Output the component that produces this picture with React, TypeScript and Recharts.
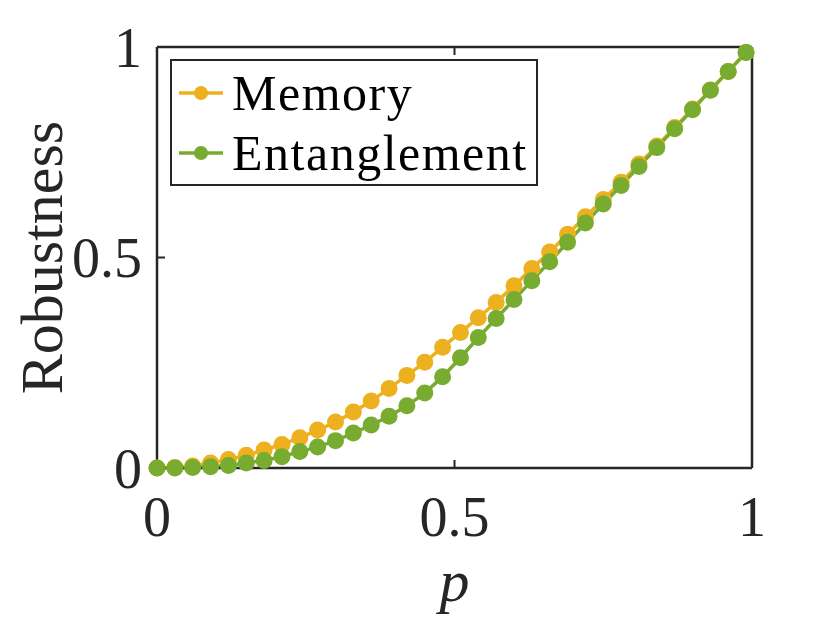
import React from "react";
import { LineChart, Line, XAxis, YAxis } from "recharts";

// p sampled every 0.03 from 0 to 0.99
const pValues = [
  0, 0.03, 0.06, 0.09, 0.12, 0.15, 0.18, 0.21, 0.24, 0.27, 0.3, 0.33, 0.36, 0.39, 0.42, 0.45, 0.48,
  0.51, 0.54, 0.57, 0.6, 0.63, 0.66, 0.69, 0.72, 0.75, 0.78, 0.81, 0.84, 0.87, 0.9, 0.93, 0.96, 0.99,
];

const memory = [
  0, 0.001, 0.005, 0.012, 0.02, 0.03, 0.043, 0.056, 0.072, 0.09, 0.109, 0.133, 0.159, 0.189, 0.22,
  0.251, 0.287, 0.322, 0.357, 0.393, 0.433, 0.474, 0.513, 0.555, 0.597, 0.638, 0.679, 0.722, 0.765,
  0.809, 0.853, 0.898, 0.942, 0.987,
];

const entanglement = [
  0, 0, 0.001, 0.003, 0.006, 0.012, 0.018, 0.027, 0.039, 0.05, 0.065, 0.083, 0.102, 0.123, 0.148,
  0.178, 0.217, 0.262, 0.31, 0.355, 0.4, 0.445, 0.49, 0.536, 0.582, 0.627, 0.671, 0.716, 0.761,
  0.806, 0.851, 0.897, 0.942, 0.987,
];

const axisTicks = [0, 0.5, 1];

const series = [
  { key: "memory", name: "Memory", color: "#EDB120" },
  { key: "entanglement", name: "Entanglement", color: "#77AC30" },
];

const data = pValues.map((p, i) => ({
  p,
  memory: memory[i],
  entanglement: entanglement[i],
}));

const FONT = "'Liberation Serif', 'Times New Roman', serif";
const INK = "#262626";

const YLabel = ({ viewBox }: any) => {
  const cy = viewBox.y + viewBox.height / 2;
  return (
    <text
      x={62}
      y={cy}
      transform={`rotate(-90, 62, ${cy})`}
      textAnchor="middle"
      fontFamily={FONT}
      fontSize={60}
      fill={INK}
    >
      Robustness
    </text>
  );
};

// legend box drawn over the plot, top-left corner
const LegendBox = () => (
  <div
    style={{
      position: "absolute",
      left: 170,
      top: 59,
      width: 364,
      height: 123,
      border: `2.5px solid ${INK}`,
      background: "#fff",
      fontFamily: FONT,
      fontSize: 50,
      color: "#000",
    }}
  >
    {series.map((s, i) => (
      <div
        key={s.key}
        style={{
          position: "absolute",
          left: 5,
          top: 4 + i * 60,
          height: 56,
          display: "flex",
          alignItems: "center",
        }}
      >
        <svg width={48} height={20} style={{ marginRight: 7 }}>
          <line x1={2} y1={10} x2={46} y2={10} stroke={s.color} strokeWidth={3.5} />
          <circle cx={24} cy={10} r={7} fill={s.color} />
        </svg>
        <span style={{ letterSpacing: 1.5, lineHeight: "56px" }}>{s.name}</span>
      </div>
    ))}
  </div>
);

export default function App() {
  return (
    <div style={{ position: "fixed", left: 0, top: 0, width: 830, height: 623, background: "#fff" }}>
      <LineChart
        width={830}
        height={623}
        data={data}
        margin={{ top: 46, right: 77, bottom: 0, left: 0 }}
      >
        <XAxis
          dataKey="p"
          type="number"
          domain={[0, 1]}
          ticks={axisTicks}
          height={155}
          axisLine={{ stroke: INK, strokeWidth: 2.5 }}
          tickLine={{ stroke: INK, strokeWidth: 2 }}
          tickSize={-8}
          tickMargin={36}
          tick={{ fontFamily: FONT, fontSize: 56, fill: INK }}
          label={{
            value: "p",
            position: "insideBottom",
            offset: 22,
            style: { fontFamily: FONT, fontSize: 60, fontStyle: "italic", fill: INK },
          }}
        />
        <XAxis
          xAxisId="top"
          dataKey="p"
          type="number"
          orientation="top"
          domain={[0, 1]}
          ticks={axisTicks}
          height={1}
          axisLine={{ stroke: INK, strokeWidth: 2.5 }}
          tickLine={{ stroke: INK, strokeWidth: 2 }}
          tickSize={-8}
          tickFormatter={() => ""}
        />
        <YAxis
          type="number"
          domain={[0, 1]}
          ticks={axisTicks}
          width={157}
          axisLine={{ stroke: INK, strokeWidth: 2.5 }}
          tickLine={{ stroke: INK, strokeWidth: 2 }}
          tickSize={-8}
          tickMargin={23}
          tick={{ fontFamily: FONT, fontSize: 56, fill: INK }}
          label={<YLabel />}
        />
        <YAxis
          yAxisId="right"
          type="number"
          orientation="right"
          domain={[0, 1]}
          ticks={axisTicks}
          width={1}
          axisLine={{ stroke: INK, strokeWidth: 2.5 }}
          tickLine={{ stroke: INK, strokeWidth: 2 }}
          tickSize={-8}
          tickFormatter={() => ""}
        />
        {series.map((s) => (
          <Line
            key={s.key}
            dataKey={s.key}
            name={s.name}
            type="linear"
            stroke={s.color}
            strokeWidth={3.5}
            dot={{ r: 8.5, fill: s.color, stroke: "none" }}
            isAnimationActive={false}
          />
        ))}
      </LineChart>
      <LegendBox />
    </div>
  );
}
